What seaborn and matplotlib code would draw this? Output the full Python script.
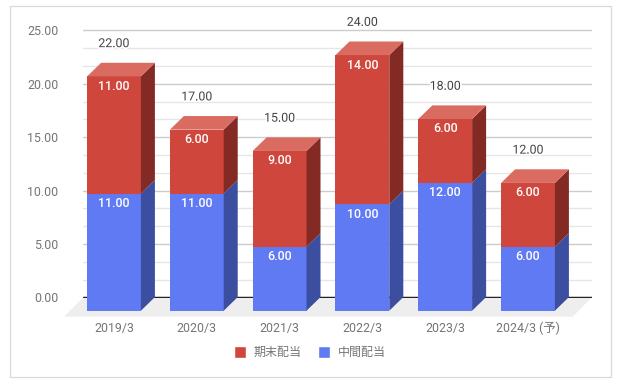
import pandas as pd
import seaborn as sns
import matplotlib.pyplot as plt
import matplotlib.patheffects as pe
from matplotlib.patches import Patch, Polygon, Rectangle
from matplotlib.ticker import MultipleLocator, FormatStrFormatter

years = ['2019/3', '2020/3', '2021/3', '2022/3', '2023/3', '2024/3 (予)']
interim = [11, 11, 6, 10, 12, 6]
final = [11, 6, 9, 14, 6, 6]
totals = [22, 17, 15, 24, 18, 12]

RED, RED_SIDE, RED_TOP = '#CF463C', '#832A25', '#DA6B60'
BLUE, BLUE_SIDE = '#5F7AF3', '#3C4E9F'
GREY = '#757575'

W, H = 618, 384
STEP = 82.8      # px per category
FRONT = 10.65    # px per value, front of bars
DX, DY = 14.0, 13.6  # depth of the 3d effect in px


def rect(left, right, top, bottom):
    return [left / W, 1 - bottom / H, (right - left) / W, (bottom - top) / H]


sns.set_theme(style='white')
plt.rcParams['font.family'] = ['Roboto', 'Noto Sans CJK JP', 'DejaVu Sans']

fig = plt.figure(figsize=(W / 100, H / 100), dpi=100)

# outer frame
fig.add_artist(Rectangle((9.5 / W, 1 - 377 / H), 601 / W, 371.5 / H, fill=False,
                         edgecolor='#d9d9d9', linewidth=0.9, transform=fig.transFigure))

# back wall: holds the grid and the value labels
wall = fig.add_axes(rect(83.3, 591.7, 30.3 - 0.1 * 10.68, 297.3 + 0.1 * 10.68), zorder=1)
wall.set_xlim(0, 1)
wall.set_ylim(-0.1, 25.1)
wall.yaxis.set_major_locator(MultipleLocator(5))
wall.yaxis.set_minor_locator(MultipleLocator(5 / 3))
wall.yaxis.set_major_formatter(FormatStrFormatter('%.2f'))
wall.grid(which='major', axis='y', color='#cccccc', linewidth=1)
wall.grid(which='minor', axis='y', color='#e6e6e6', linewidth=1)
wall.tick_params(axis='y', which='both', length=0, pad=18, labelsize=8.9, labelcolor=GREY)
wall.tick_params(axis='x', bottom=False, labelbottom=False)
wall.axhline(0, color='#222222', linewidth=1, zorder=3)
sns.despine(ax=wall, left=True, bottom=True)

# floor
floor = [(83.3, 297.3), (591.7, 297.3), (572.7, 316.7), (64, 316.7)]
wall.add_patch(Polygon([(x / W, 1 - y / H) for x, y in floor], closed=True, facecolor='#eeeeee',
                       edgecolor='none', transform=fig.transFigure, clip_on=False, zorder=2))

# front of the bars
ax = fig.add_axes(rect(114 - STEP / 2, 114 + STEP * 5.5, 310.7 - 27 * FRONT, 310.7), zorder=2)
ax.patch.set_alpha(0)

df = pd.DataFrame({'year': years, 'interim': interim, 'final': final, 'total': totals})
sns.barplot(data=df, x='year', y='total', color=RED, saturation=1, width=0.65, linewidth=0, ax=ax)
sns.barplot(data=df, x='year', y='interim', color=BLUE, saturation=1, width=0.65, linewidth=0, ax=ax)
ax.set_xlim(-0.5, 5.5)
ax.set_ylim(0, 27)
ax.set_xlabel('')
ax.set_ylabel('')
ax.set_yticks([])
ax.tick_params(axis='x', length=0, pad=15.3, labelsize=8.9, labelcolor=GREY)
# the CJK label has a taller box, so line them all up on the baseline
for label in ax.get_xticklabels():
    label.set_verticalalignment('baseline')
sns.despine(ax=ax, left=True, bottom=True)

half = 0.65 / 2
dx, dy = DX / STEP, DY / FRONT


def side(i, y0, y1, color):
    r = i + half
    ax.add_patch(Polygon([(r, y0), (r + dx, y0 + dy), (r + dx, y1 + dy), (r, y1)], closed=True,
                         facecolor=color, edgecolor='none', clip_on=False))


for i in range(len(years)):
    side(i, 0, interim[i], BLUE_SIDE)
    side(i, interim[i], totals[i], RED_SIDE)
    t = totals[i]
    ax.add_patch(Polygon([(i - half, t), (i + half, t), (i + half + dx, t + dy), (i - half + dx, t + dy)],
                         closed=True, facecolor=RED_TOP, edgecolor='none', clip_on=False))
    # labels inside the bars
    ax.annotate('%.2f' % interim[i], (i, interim[i]), xytext=(0, -7.2), textcoords='offset points',
                ha='center', va='center', color='white', fontsize=8.9, fontweight='medium')
    ax.annotate('%.2f' % final[i], (i, t), xytext=(0, -7.2), textcoords='offset points',
                ha='center', va='center', color='white', fontsize=8.9, fontweight='medium')
    # total above the bar
    ax.annotate('%.2f' % t, (i, t + dy), xytext=(0, 13.8), textcoords='offset points',
                ha='center', va='center', color='#444444', fontsize=8.9, annotation_clip=False,
                path_effects=[pe.withStroke(linewidth=2.5, foreground='white')])

handles = [Patch(facecolor=RED, label='期末配当'), Patch(facecolor=BLUE, label='中間配当')]
fig.legend(handles=handles, loc='center', bbox_to_anchor=(310 / W, 1 - 352.5 / H), ncol=2, frameon=False,
           fontsize=8.64, labelcolor=GREY, handlelength=1, handleheight=1.15, handletextpad=0.67,
           columnspacing=1.33, borderpad=0, borderaxespad=0)

fig.savefig('out.png', dpi=100)
